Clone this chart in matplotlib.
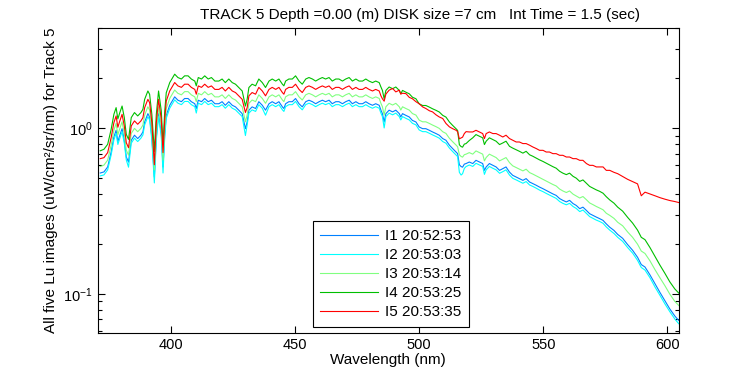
import matplotlib
matplotlib.use("Agg")
import matplotlib.pyplot as plt
from matplotlib.ticker import LogLocator, FixedLocator

plt.rcParams['font.family'] = ['Liberation Sans', 'DejaVu Sans']
plt.rcParams['mathtext.fontset'] = 'custom'
plt.rcParams['mathtext.rm'] = 'Liberation Sans'
plt.rcParams['mathtext.default'] = 'regular'

# wavelength grid (nm), shared by the five spectra
wavelength = [
    371.5, 373.0, 374.5, 375.9, 377.0, 377.9, 378.6, 379.4, 380.3, 381.2,
    382.0, 382.9, 384.0, 385.3, 386.6, 387.9, 388.7, 389.4, 390.7, 391.4,
    392.3, 393.3, 394.1, 395.0, 396.1, 396.8, 397.5, 398.1, 399.5, 401.5,
    402.8, 404.2, 405.5, 406.9, 408.2, 409.6, 410.2, 411.0, 412.3, 413.6,
    415.0, 416.3, 417.7, 419.3, 420.6, 421.9, 423.3, 424.7, 426.0, 427.3,
    428.7, 430.0, 430.7, 431.4, 432.7, 434.1, 435.4, 436.8, 438.1, 439.5,
    440.8, 442.2, 443.5, 444.9, 445.5, 446.2, 447.5, 448.9, 450.2, 451.6,
    452.9, 454.3, 455.6, 457.0, 458.3, 459.7, 461.0, 462.3, 463.7, 465.0,
    466.4, 467.7, 469.1, 470.4, 471.8, 473.1, 474.5, 475.8, 477.2, 478.5,
    479.8, 481.2, 482.5, 483.9, 484.6, 485.2, 485.9, 486.6, 487.9, 489.3,
    490.6, 492.0, 492.6, 493.3, 494.7, 496.0, 497.3, 498.7, 500.0, 501.4,
    502.7, 504.1, 505.4, 506.8, 508.1, 509.5, 510.8, 512.2, 513.5, 514.9,
    515.5, 516.2, 516.9, 517.5, 518.2, 518.9, 520.2, 521.6, 522.9, 524.3,
    525.6, 526.3, 527.0, 528.3, 529.7, 531.0, 532.4, 533.7, 535.0, 536.4,
    537.7, 539.1, 540.4, 541.8, 543.1, 544.5, 545.8, 547.2, 548.5, 549.9,
    551.2, 552.5, 553.9, 555.2, 556.6, 557.9, 559.3, 560.6, 562.0, 563.3,
    564.7, 566.0, 567.4, 568.7, 570.0, 571.4, 572.7, 574.1, 575.4, 576.8,
    578.5, 580.0, 582.0, 584.0, 586.0, 588.0, 589.5, 591.0, 593.0, 595.0,
    597.0, 599.0, 601.0, 603.0, 604.6]

lu_i1 = [
    0.535, 0.543, 0.582, 0.716, 0.882, 0.968, 0.828, 0.904, 0.990, 0.843,
    0.668, 0.623, 0.843, 0.904, 0.863, 0.904, 0.946, 1.087, 1.220, 1.165,
    0.882, 0.506, 0.882, 1.220, 0.925, 0.582, 0.925, 1.190, 1.370, 1.540,
    1.470, 1.440, 1.505, 1.505, 1.440, 1.400, 1.310, 1.470, 1.440, 1.505,
    1.440, 1.470, 1.400, 1.400, 1.440, 1.370, 1.440, 1.370, 1.340, 1.280,
    1.220, 0.990, 1.087, 1.280, 1.340, 1.310, 1.440, 1.370, 1.280, 1.400,
    1.440, 1.400, 1.440, 1.340, 1.310, 1.400, 1.440, 1.440, 1.505, 1.400,
    1.340, 1.440, 1.470, 1.440, 1.400, 1.440, 1.470, 1.440, 1.470, 1.400,
    1.440, 1.440, 1.400, 1.440, 1.470, 1.400, 1.440, 1.400, 1.400, 1.440,
    1.400, 1.370, 1.400, 1.370, 1.280, 1.220, 1.087, 1.220, 1.280, 1.250,
    1.280, 1.220, 1.165, 1.220, 1.190, 1.165, 1.110, 1.087, 1.014, 0.990,
    0.990, 0.968, 0.946, 0.925, 0.904, 0.863, 0.843, 0.787, 0.751, 0.716,
    0.700, 0.600, 0.585, 0.580, 0.605, 0.610, 0.623, 0.610, 0.638, 0.623,
    0.610, 0.555, 0.582, 0.610, 0.595, 0.582, 0.555, 0.568, 0.582, 0.542,
    0.518, 0.506, 0.495, 0.483, 0.495, 0.472, 0.462, 0.451, 0.440, 0.430,
    0.420, 0.410, 0.400, 0.392, 0.375, 0.366, 0.358, 0.366, 0.350, 0.341,
    0.326, 0.333, 0.318, 0.304, 0.297, 0.290, 0.284, 0.277, 0.264, 0.252,
    0.241, 0.228, 0.216, 0.198, 0.183, 0.166, 0.150, 0.145, 0.130, 0.115,
    0.102, 0.091, 0.081, 0.0735, 0.069]

lu_i2 = [
    0.514, 0.521, 0.559, 0.687, 0.847, 0.929, 0.795, 0.868, 0.950, 0.809,
    0.641, 0.580, 0.809, 0.868, 0.828, 0.868, 0.908, 1.044, 1.171, 1.118,
    0.847, 0.466, 0.847, 1.171, 0.888, 0.535, 0.888, 1.142, 1.315, 1.478,
    1.411, 1.382, 1.445, 1.445, 1.382, 1.344, 1.230, 1.411, 1.382, 1.445,
    1.382, 1.411, 1.344, 1.344, 1.382, 1.315, 1.382, 1.315, 1.286, 1.229,
    1.171, 0.900, 1.043, 1.229, 1.286, 1.258, 1.382, 1.315, 1.194, 1.344,
    1.382, 1.344, 1.382, 1.286, 1.258, 1.344, 1.382, 1.382, 1.445, 1.344,
    1.286, 1.382, 1.411, 1.382, 1.344, 1.382, 1.411, 1.382, 1.411, 1.344,
    1.382, 1.382, 1.344, 1.382, 1.411, 1.344, 1.382, 1.344, 1.344, 1.382,
    1.344, 1.315, 1.344, 1.315, 1.229, 1.171, 1.000, 1.171, 1.229, 1.200,
    1.229, 1.171, 1.118, 1.171, 1.142, 1.118, 1.066, 1.044, 0.973, 0.950,
    0.950, 0.929, 0.908, 0.888, 0.868, 0.828, 0.809, 0.756, 0.721, 0.687,
    0.672, 0.540, 0.520, 0.530, 0.570, 0.585, 0.598, 0.586, 0.612, 0.598,
    0.586, 0.525, 0.559, 0.586, 0.571, 0.559, 0.533, 0.545, 0.559, 0.520,
    0.497, 0.486, 0.475, 0.464, 0.475, 0.453, 0.444, 0.433, 0.422, 0.413,
    0.403, 0.394, 0.384, 0.376, 0.360, 0.351, 0.344, 0.351, 0.336, 0.327,
    0.313, 0.320, 0.305, 0.292, 0.285, 0.278, 0.273, 0.266, 0.253, 0.242,
    0.231, 0.219, 0.207, 0.190, 0.176, 0.159, 0.144, 0.139, 0.125, 0.110,
    0.098, 0.087, 0.078, 0.0705, 0.066]

lu_i3 = [
    0.585, 0.597, 0.640, 0.788, 0.970, 1.065, 0.911, 0.994, 1.089, 0.927,
    0.735, 0.685, 0.927, 0.994, 0.949, 0.994, 1.041, 1.196, 1.342, 1.282,
    0.970, 0.557, 0.970, 1.342, 1.018, 0.640, 1.018, 1.309, 1.507, 1.694,
    1.617, 1.584, 1.656, 1.656, 1.584, 1.540, 1.441, 1.617, 1.584, 1.656,
    1.584, 1.617, 1.540, 1.540, 1.584, 1.507, 1.584, 1.507, 1.474, 1.408,
    1.342, 1.089, 1.196, 1.408, 1.474, 1.441, 1.584, 1.507, 1.408, 1.540,
    1.584, 1.540, 1.584, 1.474, 1.441, 1.540, 1.584, 1.584, 1.656, 1.540,
    1.474, 1.584, 1.617, 1.584, 1.540, 1.584, 1.617, 1.584, 1.617, 1.540,
    1.584, 1.584, 1.540, 1.584, 1.617, 1.540, 1.584, 1.540, 1.540, 1.584,
    1.540, 1.507, 1.540, 1.507, 1.408, 1.342, 1.196, 1.342, 1.408, 1.375,
    1.408, 1.342, 1.282, 1.342, 1.309, 1.282, 1.221, 1.196, 1.115, 1.089,
    1.089, 1.065, 1.041, 1.018, 0.994, 0.949, 0.927, 0.866, 0.826, 0.788,
    0.770, 0.690, 0.673, 0.667, 0.690, 0.695, 0.710, 0.695, 0.727, 0.710,
    0.695, 0.633, 0.663, 0.695, 0.678, 0.663, 0.633, 0.648, 0.663, 0.618,
    0.591, 0.577, 0.564, 0.551, 0.564, 0.538, 0.527, 0.514, 0.502, 0.490,
    0.479, 0.467, 0.456, 0.447, 0.428, 0.417, 0.408, 0.417, 0.399, 0.389,
    0.378, 0.386, 0.369, 0.353, 0.345, 0.336, 0.329, 0.321, 0.306, 0.297,
    0.285, 0.270, 0.257, 0.236, 0.219, 0.199, 0.181, 0.175, 0.158, 0.140,
    0.125, 0.112, 0.0995, 0.090, 0.085]

lu_i4 = [
    0.728, 0.744, 0.797, 0.981, 1.208, 1.326, 1.134, 1.238, 1.356, 1.155,
    0.915, 0.854, 1.155, 1.238, 1.182, 1.238, 1.296, 1.489, 1.671, 1.596,
    1.208, 0.720, 1.208, 1.671, 1.267, 0.800, 1.267, 1.630, 1.877, 2.110,
    2.014, 1.973, 2.062, 2.062, 1.973, 1.918, 1.795, 2.014, 1.973, 2.062,
    1.973, 2.014, 1.918, 1.918, 1.973, 1.877, 1.973, 1.877, 1.836, 1.754,
    1.671, 1.356, 1.489, 1.754, 1.836, 1.795, 1.973, 1.877, 1.754, 1.918,
    1.973, 1.918, 1.973, 1.836, 1.795, 1.918, 1.973, 1.973, 2.062, 1.918,
    1.836, 1.973, 2.014, 1.973, 1.918, 1.973, 2.014, 1.973, 2.014, 1.918,
    1.973, 1.973, 1.918, 1.973, 2.014, 1.918, 1.973, 1.918, 1.918, 1.973,
    1.918, 1.877, 1.918, 1.877, 1.766, 1.684, 1.500, 1.684, 1.766, 1.725,
    1.766, 1.684, 1.608, 1.684, 1.642, 1.608, 1.532, 1.500, 1.399, 1.366,
    1.366, 1.336, 1.305, 1.277, 1.248, 1.191, 1.163, 1.086, 1.036, 0.988,
    0.966, 0.792, 0.772, 0.766, 0.799, 0.805, 0.840, 0.872, 0.912, 0.891,
    0.872, 0.794, 0.832, 0.872, 0.851, 0.832, 0.794, 0.812, 0.832, 0.775,
    0.756, 0.739, 0.723, 0.705, 0.723, 0.689, 0.675, 0.658, 0.642, 0.628,
    0.613, 0.599, 0.584, 0.572, 0.548, 0.534, 0.523, 0.534, 0.511, 0.498,
    0.476, 0.486, 0.464, 0.444, 0.434, 0.423, 0.415, 0.404, 0.385, 0.368,
    0.352, 0.333, 0.315, 0.289, 0.267, 0.242, 0.219, 0.212, 0.190, 0.168,
    0.149, 0.133, 0.118, 0.107, 0.101]

lu_i5 = [
    0.653, 0.662, 0.710, 0.874, 1.076, 1.181, 1.010, 1.103, 1.208, 1.028,
    0.815, 0.760, 1.028, 1.103, 1.053, 1.103, 1.154, 1.326, 1.488, 1.421,
    1.076, 0.600, 1.076, 1.488, 1.129, 0.710, 1.129, 1.452, 1.671, 1.879,
    1.793, 1.757, 1.836, 1.836, 1.757, 1.708, 1.598, 1.793, 1.757, 1.836,
    1.757, 1.793, 1.708, 1.708, 1.757, 1.671, 1.757, 1.671, 1.635, 1.562,
    1.488, 1.240, 1.326, 1.562, 1.635, 1.598, 1.757, 1.671, 1.562, 1.708,
    1.757, 1.708, 1.757, 1.635, 1.598, 1.708, 1.757, 1.757, 1.836, 1.708,
    1.635, 1.757, 1.793, 1.757, 1.708, 1.757, 1.793, 1.757, 1.793, 1.708,
    1.757, 1.757, 1.708, 1.757, 1.793, 1.708, 1.757, 1.708, 1.708, 1.757,
    1.708, 1.671, 1.708, 1.671, 1.562, 1.500, 1.450, 1.600, 1.690, 1.730,
    1.650, 1.690, 1.600, 1.620, 1.610, 1.530, 1.500, 1.440, 1.400, 1.340,
    1.310, 1.270, 1.250, 1.200, 1.165, 1.140, 1.065, 1.015, 0.990, 0.968,
    0.950, 0.860, 0.870, 0.880, 0.925, 0.950, 0.946, 0.946, 0.968, 0.946,
    0.925, 0.863, 0.925, 0.946, 0.925, 0.925, 0.904, 0.882, 0.904, 0.863,
    0.843, 0.823, 0.823, 0.805, 0.805, 0.787, 0.768, 0.751, 0.733, 0.733,
    0.716, 0.716, 0.700, 0.700, 0.684, 0.684, 0.668, 0.668, 0.653, 0.653,
    0.638, 0.638, 0.610, 0.595, 0.595, 0.582, 0.582, 0.582, 0.555, 0.555,
    0.540, 0.530, 0.510, 0.490, 0.475, 0.460, 0.390, 0.410, 0.400, 0.390,
    0.380, 0.372, 0.365, 0.360, 0.355]

labels = ['I1 20:52:53', 'I2 20:53:03', 'I3 20:53:14', 'I4 20:53:25', 'I5 20:53:35']
colors = ['#0080ff', '#00ffff', '#80ff80', '#00bf00', '#ff0000']
series = [lu_i1, lu_i2, lu_i3, lu_i4, lu_i5]

fig = plt.figure(figsize=(7.5, 3.75), dpi=100)
ax = fig.add_axes([0.13, 0.112, 0.775, 0.813])

for vals, lab, col in zip(series, labels, colors):
    ax.plot(wavelength, vals, color=col, lw=0.8, label=lab)

ax.set_yscale('log')
ax.set_xlim(370.4, 604.6)
ax.set_ylim(0.058, 4.0)
ax.xaxis.set_major_locator(FixedLocator([400, 450, 500, 550, 600]))
ax.yaxis.set_major_locator(LogLocator(base=10))
ax.yaxis.set_minor_locator(LogLocator(base=10, subs=range(2, 10)))

ax.tick_params(which='both', direction='in', top=True, right=True, labelsize=10.5)
ax.tick_params(which='major', length=5, width=0.8)
ax.tick_params(which='minor', length=3, width=0.8)
for s in ax.spines.values():
    s.set_linewidth(0.8)

ax.set_xlabel('Wavelength (nm)', fontsize=11, labelpad=1)
ax.set_ylabel('All five Lu images (uW/cm\u00b2/sr/nm) for Track 5', fontsize=11, labelpad=4)
ax.text(0.554, 1.02, 'TRACK 5 Depth =0.00 (m) DISK size =7 cm   Int Time = 1.5 (sec)',
        transform=ax.transAxes, ha='center', va='bottom', fontsize=11)

leg = ax.legend(loc='lower left', bbox_to_anchor=(0.370, 0.020), fontsize=11,
                frameon=True, fancybox=False, edgecolor='black', framealpha=1,
                handlelength=3.8, handletextpad=0.45, labelspacing=0.33,
                borderpad=0.5, borderaxespad=0)
leg.get_frame().set_linewidth(0.8)

fig.savefig('out.png', dpi=100)
